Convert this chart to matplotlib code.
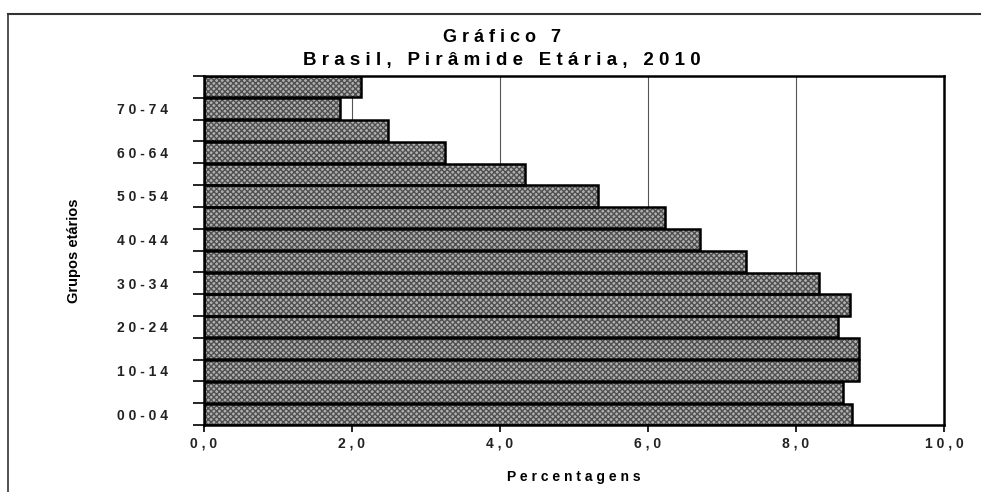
import numpy as np
import matplotlib
matplotlib.use('Agg')
import matplotlib.pyplot as plt
from matplotlib.lines import Line2D

# data, bottom bar first
grupos = ['00-04', '05-09', '10-14', '15-19', '20-24', '25-29', '30-34', '35-39',
          '40-44', '45-49', '50-54', '55-59', '60-64', '65-69', '70-74', '75+']
percentagens = [8.76, 8.63, 8.85, 8.85, 8.57, 8.73, 8.31, 7.33,
                6.70, 6.23, 5.33, 4.34, 3.26, 2.49, 1.84, 2.12]
xticks = [0, 2, 4, 6, 8, 10]

titulo1 = 'Gráfico 7'
titulo2 = 'Brasil, Pirâmide Etária, 2010'
xlabel = 'Percentagens'
ylabel = 'Grupos etários'


def spaced(s):
    # mimic the wide letter spacing of the original
    return ' '.join(list(s))


plt.rcParams['font.family'] = ['Liberation Sans', 'DejaVu Sans']

fig = plt.figure(figsize=(9.91, 4.92), dpi=100)
ax = fig.add_axes([204 / 991, 1 - 425 / 492, 740 / 991, 349 / 492])

y = np.arange(len(grupos))

# hatched fill, then black outlines on top
ax.barh(y, percentagens, height=0.97, color='#b0b0b0', edgecolor='#505050',
        hatch='xxxxxx', linewidth=0, zorder=2)
ax.barh(y, percentagens, height=0.97, fill=False, edgecolor='black',
        linewidth=1.8, zorder=3)

ax.set_xlim(0, 10)
ax.set_ylim(-0.5, len(grupos) - 0.5)

# grid lines
for g in [2, 4, 6, 8]:
    ax.axvline(g, color='#555555', linewidth=0.8, zorder=1)

# y: labels every other group, ticks at bar edges
lab_pos = [i for i in y if i % 2 == 0]
ax.set_yticks(lab_pos)
ax.set_yticklabels([spaced(grupos[i]) for i in lab_pos], fontsize=10,
                   fontweight='bold', color='#222222')
ax.tick_params(axis='y', length=0, pad=26)
ax.set_yticks(np.arange(-0.5, len(grupos)), minor=True)
ax.tick_params(axis='y', which='minor', length=8, width=1.2, direction='out')

ax.set_xticks(xticks)
ax.set_xticklabels([spaced(('%.1f' % v).replace('.', ',')) for v in xticks],
                   fontsize=10, fontweight='bold', color='#222222')
ax.tick_params(axis='x', length=5, width=1.2, direction='out', pad=3)

for s in ax.spines.values():
    s.set_linewidth(1.8)
    s.set_zorder(4)

ax.set_xlabel(spaced(xlabel), fontsize=10, fontweight='bold', labelpad=14)
ax.set_ylabel(ylabel, fontsize=10.5, fontweight='bold', labelpad=26)

fig.text(502 / 991, 1 - 38 / 492, spaced(titulo1), ha='center', va='center',
         fontsize=13, fontweight='bold')
fig.text(502 / 991, 1 - 60 / 492, spaced(titulo2), ha='center', va='center',
         fontsize=13.5, fontweight='bold')

# outer chart frame (top and left edges visible in the scan)
fig.add_artist(Line2D([8 / 991, 980 / 991], [1 - 14 / 492, 1 - 14 / 492],
                      transform=fig.transFigure, color='#333333', linewidth=1.5))
fig.add_artist(Line2D([8 / 991, 8 / 991], [1 - 14 / 492, 0],
                      transform=fig.transFigure, color='#333333', linewidth=1.2))

fig.savefig('out.png', dpi=100)
